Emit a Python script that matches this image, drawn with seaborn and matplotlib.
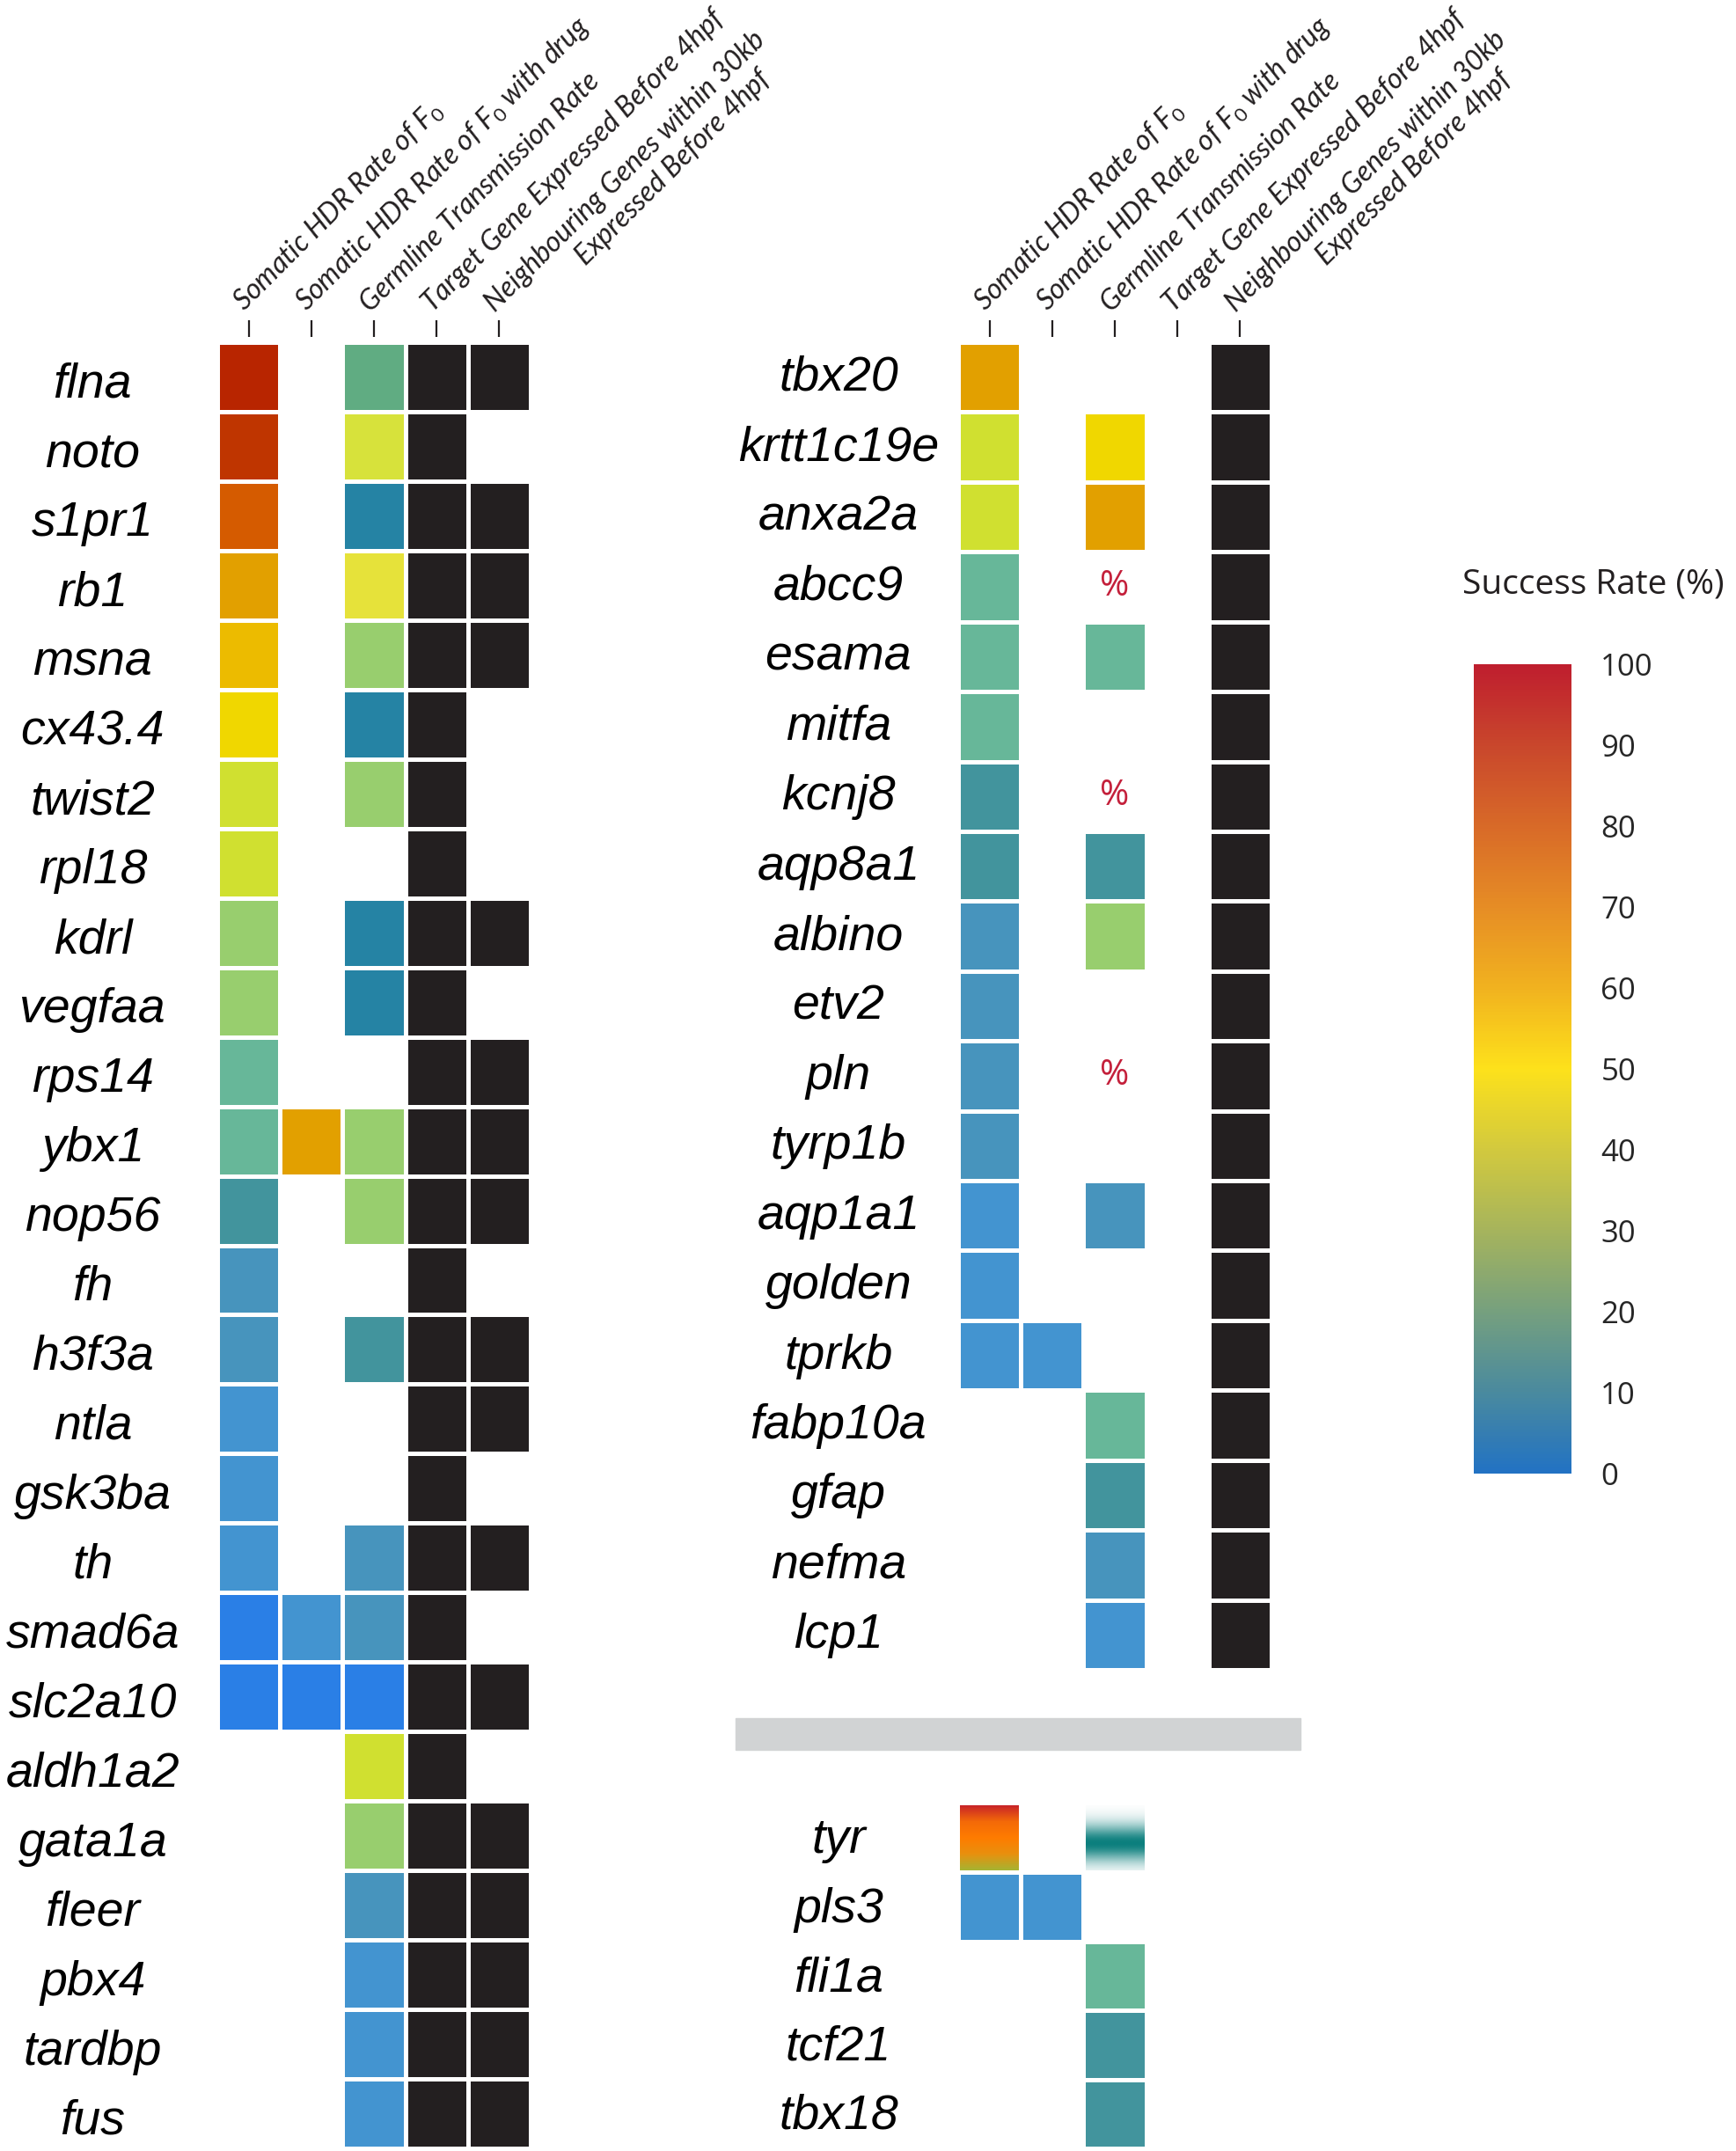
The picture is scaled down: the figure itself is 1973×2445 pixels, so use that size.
import numpy as np
import pandas as pd
import matplotlib
matplotlib.use('Agg')
import matplotlib.pyplot as plt
import matplotlib.transforms as mtransforms
import seaborn as sns
from matplotlib.colors import LinearSegmentedColormap, ListedColormap, Normalize
from matplotlib.cm import ScalarMappable
from matplotlib.patches import Rectangle

nan = np.nan

# column headers (the last one has a second line drawn separately)
headers = ['Somatic HDR Rate of F$_{\\mathit{0}}$',
           'Somatic HDR Rate of F$_{\\mathit{0}}$ with drug',
           'Germline Transmission Rate',
           'Target Gene Expressed Before 4hpf',
           'Neighbouring Genes within 30kb']
header_line2 = 'Expressed Before 4hpf'

# ---- left block ----
left_genes = ['flna', 'noto', 's1pr1', 'rb1', 'msna', 'cx43.4', 'twist2', 'rpl18', 'kdrl',
              'vegfaa', 'rps14', 'ybx1', 'nop56', 'fh', 'h3f3a', 'ntla', 'gsk3ba', 'th',
              'smad6a', 'slc2a10', 'aldh1a2', 'gata1a', 'fleer', 'pbx4', 'tardbp', 'fus']
left_somatic = [92, 85, 75, 60, 55, 50, 35, 35, 20, 20, 15, 15, 10, 6, 6, 4, 4, 4, 0, 0,
                nan, nan, nan, nan, nan, nan]
left_drug = [nan, nan, nan, nan, nan, nan, nan, nan, nan, nan, nan, 60, nan, nan, nan, nan,
             nan, nan, 4, 0, nan, nan, nan, nan, nan, nan]
left_germline = [14, 37, 8, 40, 20, 8, 20, nan, 8, 8, nan, 20, 20, nan, 10, nan, nan, 6,
                 6, 0, 35, 20, 6, 4, 4, 4]
left_target = [1] * 26
left_neighbour = [1, 0, 1, 1, 1, 0, 0, 0, 1, 0, 1, 1, 1, 0, 1, 1, 0, 1, 0, 1, 0, 1, 1, 1, 1, 1]

# ---- right block ----
right_genes = ['tbx20', 'krtt1c19e', 'anxa2a', 'abcc9', 'esama', 'mitfa', 'kcnj8', 'aqp8a1',
               'albino', 'etv2', 'pln', 'tyrp1b', 'aqp1a1', 'golden', 'tprkb', 'fabp10a',
               'gfap', 'nefma', 'lcp1']
right_somatic = [60, 35, 35, 15, 15, 15, 10, 10, 6, 6, 6, 6, 4, 4, 4, nan, nan, nan, nan]
right_drug = [nan] * 14 + [4] + [nan] * 4
right_germline = [nan, 50, 60, nan, 15, nan, nan, 10, 20, nan, nan, nan, 6, nan, nan,
                  15, 10, 6, 4]
right_germline_pct = ['abcc9', 'kcnj8', 'pln']   # shown as a "%" sign
right_target = [0] * 19
right_neighbour = [1] * 19

# ---- lower right block ----
low_genes = ['tyr', 'pls3', 'fli1a', 'tcf21', 'tbx18']
low_somatic = [nan, 4, nan, nan, nan]
low_drug = [nan, 4, nan, nan, nan]
low_germline = [nan, nan, 15, 10, 10]
low_target = [0] * 5
low_neighbour = [0] * 5
tyr_somatic_colors = ['#c82428', '#f46a08', '#ff7c00', '#e8900e', '#a6b432']
tyr_germline_color = '#0b7f7d'

cell_cmap = LinearSegmentedColormap.from_list('cells', [
    (0.00, '#2a7fe6'), (0.04, '#4494d0'), (0.06, '#4794bc'), (0.08, '#2282a2'),
    (0.10, '#46969c'), (0.14, '#62ae80'), (0.15, '#68b89c'), (0.20, '#98ce6e'),
    (0.35, '#d0e030'), (0.37, '#d8e23c'), (0.40, '#e6e23a'), (0.50, '#f0d800'),
    (0.55, '#ecba00'), (0.60, '#e2a000'), (0.75, '#d65c00'), (0.85, '#bf3500'),
    (0.92, '#b82500'), (1.00, '#b01e00')])
legend_cmap = LinearSegmentedColormap.from_list('legend', [
    (0.0, '#2272c3'), (0.1, '#4a8a9e'), (0.2, '#76a07e'), (0.3, '#a6b45c'),
    (0.4, '#d2c93e'), (0.5, '#fde11b'), (0.6, '#f1b21f'), (0.7, '#e68d25'),
    (0.8, '#d86a28'), (0.9, '#c9472c'), (1.0, '#bf1e2e')])
black = '#231f20'

sns.set_theme(style='white')
plt.rcParams['font.family'] = ['Liberation Sans', 'DejaVu Sans']
plt.rcParams['mathtext.fontset'] = 'custom'
plt.rcParams['mathtext.it'] = 'Lato:italic'
plt.rcParams['mathtext.rm'] = 'Lato'

W, H = 1973, 2445
fig = plt.figure(figsize=(W / 100, H / 100), dpi=100)
fig.patch.set_facecolor('white')


def px_rect(x0, y0, x1, y1):
    return [x0 / W, 1 - y1 / H, (x1 - x0) / W, (y1 - y0) / H]


def panel(rect, genes, somatic, drug, germline, target, neighbour, ypad, ydrop, header=True):
    ax = fig.add_axes(rect)
    rates = pd.DataFrame({headers[0]: somatic, headers[1]: drug, headers[2]: germline,
                          headers[3]: nan, headers[4]: nan}, index=genes)
    flags = pd.DataFrame({headers[0]: nan, headers[1]: nan, headers[2]: nan,
                          headers[3]: target, headers[4]: neighbour}, index=genes)
    flags = flags.where(flags > 0)
    sns.heatmap(rates, ax=ax, cmap=cell_cmap, vmin=0, vmax=100, cbar=False,
                linewidths=3.4, linecolor='white')
    if flags.notna().any().any():
        sns.heatmap(flags, ax=ax, cmap=ListedColormap([black]), vmin=0, vmax=1,
                    cbar=False, linewidths=3.4, linecolor='white')
    ax.set_yticks(np.arange(len(genes)) + 0.5)
    ax.set_yticklabels(genes, rotation=0, fontsize=40, fontstyle='italic',
                       family='Liberation Sans', color='black')
    ax.tick_params(axis='y', length=0, pad=ypad, left=False)
    shift = mtransforms.ScaledTranslation(0, -ydrop / 100, fig.dpi_scale_trans)
    for t in ax.get_yticklabels():
        t.set_ha('center')
        t.set_transform(t.get_transform() + shift)
    if header:
        ax.xaxis.tick_top()
        ax.spines['top'].set_position(('outward', 4.5))
        ax.set_xticks(np.arange(5) + 0.5)
        ax.set_xticklabels(headers, rotation=45, ha='left', va='bottom',
                           rotation_mode='anchor', fontsize=23, fontstyle='italic',
                           family='Lato', color=black)
        ax.tick_params(axis='x', length=13.5, width=1.6, color=black, pad=3,
                       top=True, bottom=False, labeltop=True, labelbottom=False)
        ax.annotate(header_line2, xy=(4.5, 0), xycoords='data',
                    xytext=(74, 21 + 38), textcoords='offset points',
                    rotation=45, ha='left', va='bottom', rotation_mode='anchor',
                    fontsize=23, fontstyle='italic', family='Lato', color=black,
                    annotation_clip=False)
    else:
        ax.set_xticks([])
    ax.set_xlabel('')
    ax.set_ylabel('')
    return ax


ax_left = panel(px_rect(247, 389, 603, 2442), left_genes, left_somatic, left_drug,
                left_germline, left_target, left_neighbour, ypad=102, ydrop=9)
ax_right = panel(px_rect(1089, 389, 1445, 1898), right_genes, right_somatic, right_drug,
                 right_germline, right_target, right_neighbour, ypad=98, ydrop=1)
ax_low = panel(px_rect(1089, 2050, 1445, 2442), low_genes, low_somatic, low_drug,
               low_germline, low_target, low_neighbour, ypad=98, ydrop=3, header=False)

# "%" marks in the germline column
for g in right_germline_pct:
    i = right_genes.index(g)
    ax_right.text(2.5, i + 0.5, '%', ha='center', va='center', fontsize=29,
                  family='Open Sans', color='#c4203b')

# tyr row: gradient cells
gx, gy = 0.033, 0.03
tyr_cmap = LinearSegmentedColormap.from_list('tyr', tyr_somatic_colors)
ax_low.imshow(np.linspace(0, 1, 200)[:, None], cmap=tyr_cmap, aspect='auto',
              extent=(0 + gx, 1 - gx, 1 - gy, 0 + gy), zorder=3, interpolation='bilinear')
t = np.linspace(0, 1, 200)
rgba = np.zeros((200, 1, 4))
rgba[:, 0, :3] = matplotlib.colors.to_rgb(tyr_germline_color)
rgba[:, 0, 3] = np.exp(-((t - 0.58) / 0.2) ** 2 / 2)
ax_low.imshow(rgba, aspect='auto', extent=(2 + gx, 3 - gx, 1 - gy, 0 + gy), zorder=3,
              interpolation='bilinear')
ax_low.set_xlim(0, 5)
ax_low.set_ylim(5, 0)

# grey separator bar
fig.add_artist(Rectangle((836 / W, 1 - 1989 / H), 642 / W, 36 / H,
                         transform=fig.transFigure, color='#d1d3d4', zorder=0))

# colour legend
cax = fig.add_axes(px_rect(1675, 755, 1786, 1675))
cbar = fig.colorbar(ScalarMappable(norm=Normalize(0, 100), cmap=legend_cmap), cax=cax,
                    ticks=list(range(0, 101, 10)))
cbar.outline.set_visible(False)
cax.tick_params(length=0, pad=24, labelsize=25)
for lab in cax.get_yticklabels():
    lab.set_family('Open Sans')
fig.text(1811 / W, 1 - 664 / H, 'Success Rate (%)', ha='center', va='center',
         fontsize=28, family='Open Sans', color=black)

fig.savefig('out.png', dpi=100)
